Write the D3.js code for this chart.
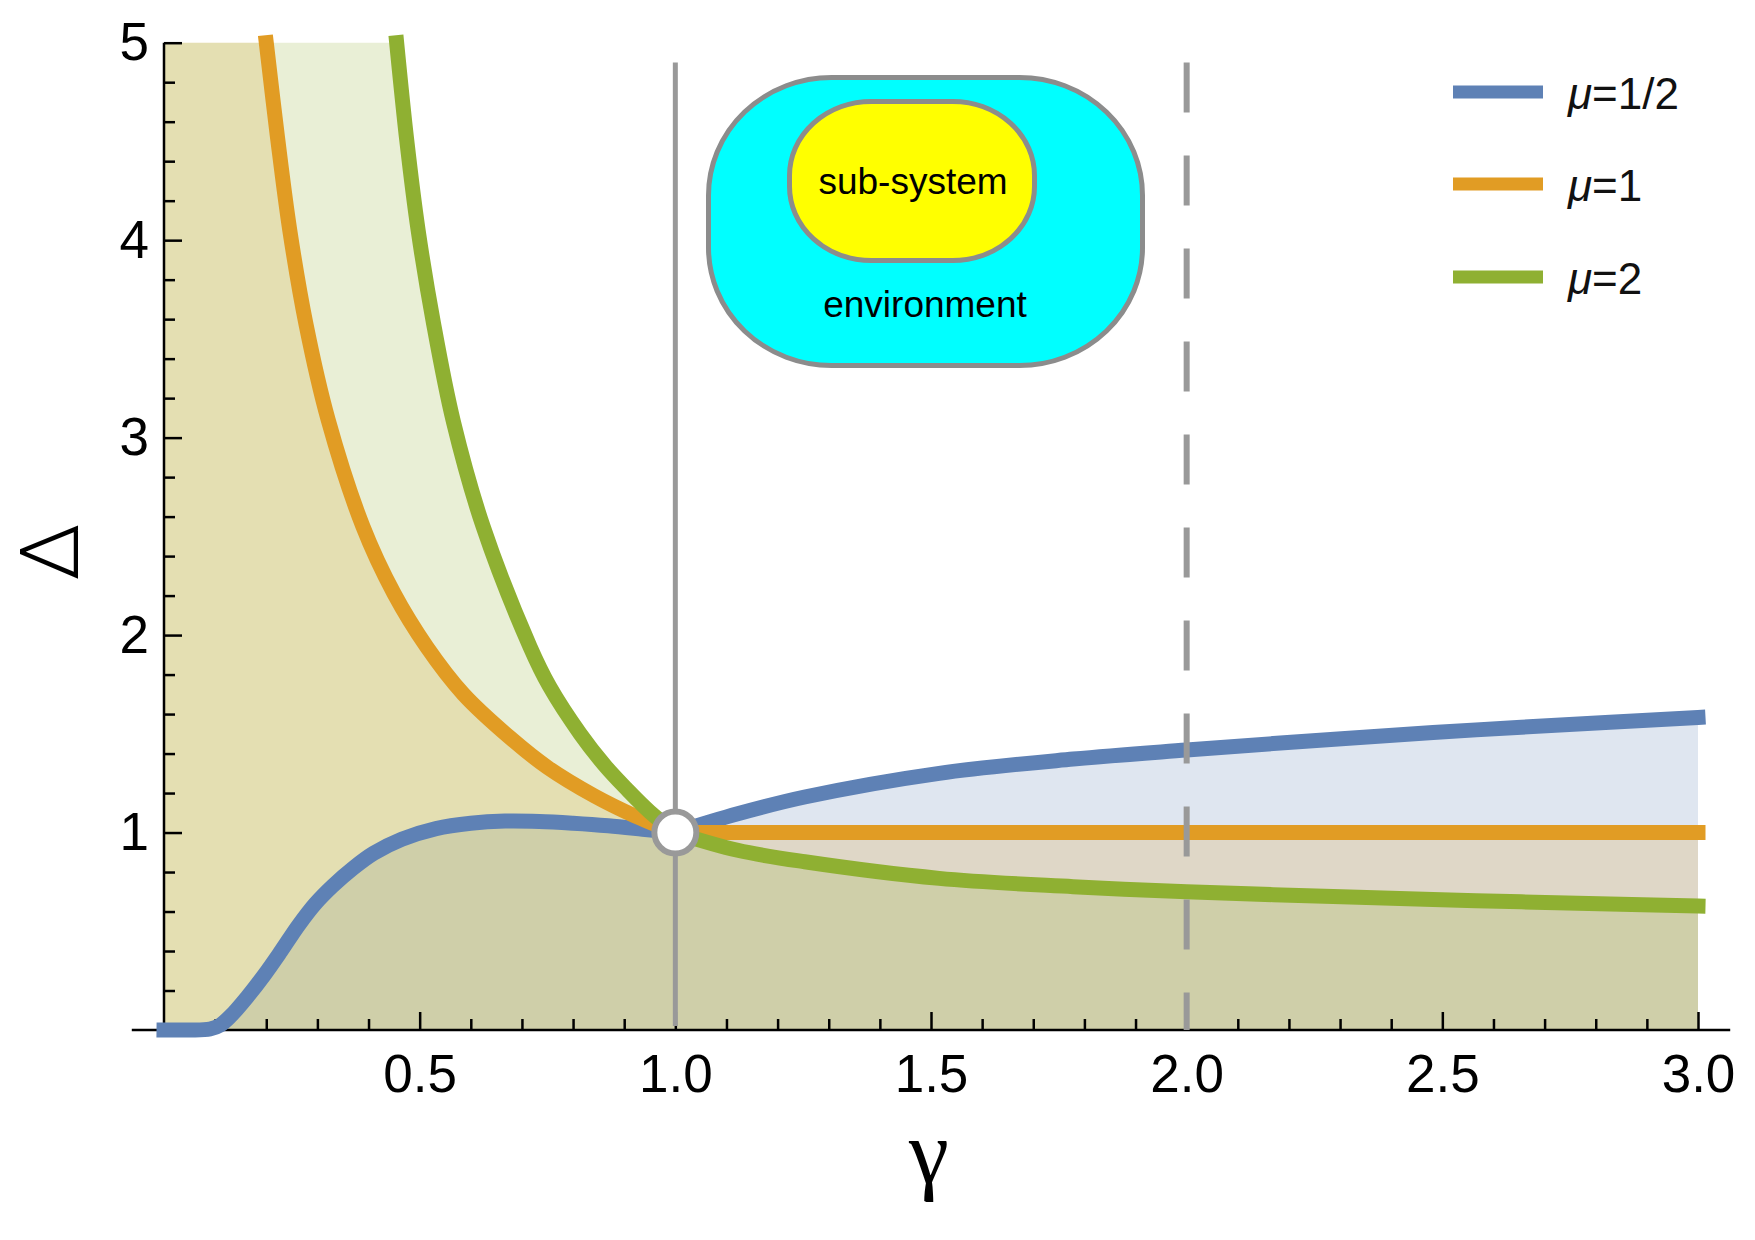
<!DOCTYPE html>
<html>
<head>
<meta charset="utf-8">
<script src="https://cdn.jsdelivr.net/npm/d3@7/dist/d3.min.js"></script>
<style>
  body { margin: 0; background: #fff; }
  svg { display: block; font-family: "Liberation Sans", Arial, sans-serif; }
</style>
</head>
<body>
<script>
// Data //////////////////////////////////////

// mu = 1/2 (blue), split at gamma = 1
var blueGammaLeft  = [0, 0.05, 0.09, 0.11, 0.13, 0.162, 0.195, 0.229, 0.263, 0.296, 0.33, 0.37, 0.41, 0.465, 0.532, 0.6, 0.667, 0.734, 0.80, 0.869, 0.936, 1.0];
var blueDeltaLeft  = [0, 0, 0.005, 0.025, 0.07, 0.165, 0.275, 0.40, 0.53, 0.64, 0.73, 0.82, 0.895, 0.966, 1.02, 1.047, 1.058, 1.056, 1.047, 1.034, 1.017, 1.0];
var blueGammaRight = [1.0, 1.122, 1.253, 1.516, 1.778, 2.0, 2.303, 2.566, 2.828, 3.0];
var blueDeltaRight = [1.0, 1.095, 1.18, 1.30, 1.372, 1.418, 1.475, 1.52, 1.558, 1.583];

// mu = 1 (orange)
var orangeGammaLeft  = [0.20, 0.222, 0.246, 0.278, 0.321, 0.389, 0.45, 0.514, 0.586, 0.677, 0.75, 0.842, 0.92, 1.0];
var orangeDeltaLeft  = [5.0, 4.52, 4.05, 3.57, 3.09, 2.55, 2.21, 1.94, 1.70, 1.48, 1.33, 1.185, 1.085, 1.0];
var orangeGammaRight = [1.0, 2.0, 3.0];
var orangeDeltaRight = [1.0, 1.0, 1.0];

// mu = 2 (green)
var greenGammaLeft  = [0.455, 0.475, 0.497, 0.527, 0.566, 0.624, 0.716, 0.754, 0.814, 0.862, 0.905, 0.95, 1.0];
var greenDeltaLeft  = [5.0, 4.5, 4.05, 3.58, 3.08, 2.55, 1.94, 1.74, 1.50, 1.34, 1.22, 1.105, 1.0];
var greenGammaRight = [1.0, 1.122, 1.253, 1.516, 1.778, 2.0, 2.303, 2.566, 2.828, 3.0];
var greenDeltaRight = [1.0, 0.91, 0.852, 0.768, 0.726, 0.70, 0.675, 0.655, 0.638, 0.628];

var seriesNames  = ["\u03bc=1/2", "\u03bc=1", "\u03bc=2"];
var seriesColors = ["#5E81B5", "#E19C24", "#8FB032"];

var xTickValues = [0.5, 1.0, 1.5, 2.0, 2.5, 3.0];
var yTickValues = [1, 2, 3, 4, 5];

var markGammas = [1.0, 2.0];   // solid and dashed vertical guides
var pointGamma = 1.0, pointDelta = 1.0;

// SVG + scales //////////////////////////////////////////////////
var W = 1755, H = 1240;

var svg = d3.select("body").append("svg")
    .attr("width", W)
    .attr("height", H);

var x = d3.scaleLinear().domain([0, 3]).range([164, 1698]);
var y = d3.scaleLinear().domain([0, 5]).range([1030, 42.7]);

function pts(g, d) { return g.map(function(v, i) { return [v, d[i]]; }); }

var line = d3.line()
    .x(function(d) { return x(d[0]); })
    .y(function(d) { return y(d[1]); })
    .curve(d3.curveCatmullRom.alpha(0.5));

var series = [
  { left: pts(blueGammaLeft, blueDeltaLeft),     right: pts(blueGammaRight, blueDeltaRight) },
  { left: pts(orangeGammaLeft, orangeDeltaLeft), right: pts(orangeGammaRight, orangeDeltaRight) },
  { left: pts(greenGammaLeft, greenDeltaLeft),   right: pts(greenGammaRight, greenDeltaRight) }
];

function curvePath(s) {
  return line(s.left) + line(s.right).replace(/^M/, "L");
}

function fillPath(s) {
  var first = s.left[0], last = s.right[s.right.length - 1];
  return curvePath(s)
    + "L" + x(last[0]) + "," + y(0)
    + "L" + x(0) + "," + y(0)
    + "L" + x(0) + "," + y(first[1]) + "Z";
}

// fills (to axis) //////////////////////////////////////////////
svg.append("g").selectAll("path")
  .data(series)
  .enter().append("path")
    .attr("d", fillPath)
    .attr("fill", function(d, i) { return seriesColors[i]; })
    .attr("fill-opacity", 0.2)
    .attr("stroke", "none");

// axes //////////////////////////////////////////////////////////
var xMinor = d3.range(1, 30).map(function(i) { return i / 10; })
    .filter(function(v) { return Math.abs(v * 2 - Math.round(v * 2)) > 1e-6; });
var yMinor = d3.range(1, 25).map(function(i) { return i / 5; })
    .filter(function(v) { return Math.abs(v - Math.round(v)) > 1e-6; });

function styleAxis(g) {
  g.select(".domain").remove();
  g.selectAll(".tick line").attr("stroke", "#000").attr("stroke-width", 2.5);
  g.selectAll(".tick text")
    .attr("fill", "#000")
    .style("font-family", '"Liberation Sans", Arial, sans-serif')
    .style("font-size", "53px");
}

svg.append("g")
    .attr("transform", "translate(0," + y(0) + ")")
    .call(d3.axisBottom(x).tickValues(xMinor).tickSize(-11).tickFormat(""))
    .call(styleAxis);

svg.append("g")
    .attr("transform", "translate(0," + y(0) + ")")
    .call(d3.axisBottom(x).tickValues(xTickValues).tickSize(-18).tickPadding(24).tickFormat(d3.format(".1f")))
    .call(styleAxis);

svg.append("g")
    .attr("transform", "translate(" + x(0) + ",0)")
    .call(d3.axisLeft(y).tickValues(yMinor).tickSize(-11).tickFormat(""))
    .call(styleAxis);

svg.append("g")
    .attr("transform", "translate(" + x(0) + ",0)")
    .call(d3.axisLeft(y).tickValues(yTickValues).tickSize(-18).tickPadding(15).tickFormat(d3.format("d")))
    .call(styleAxis);

// axis lines
svg.append("line")
    .attr("x1", x(-0.063)).attr("x2", x(3.063))
    .attr("y1", y(0)).attr("y2", y(0))
    .attr("stroke", "#000").attr("stroke-width", 2.5);
svg.append("line")
    .attr("x1", x(0)).attr("x2", x(0))
    .attr("y1", y(0)).attr("y2", y(5))
    .attr("stroke", "#000").attr("stroke-width", 2.5);

// curves ////////////////////////////////////////////////////////
svg.append("g").selectAll("path")
  .data(series)
  .enter().append("path")
    .attr("d", curvePath)
    .attr("fill", "none")
    .attr("stroke", function(d, i) { return seriesColors[i]; })
    .attr("stroke-width", 15)
    .attr("stroke-linecap", "square")
    .attr("stroke-linejoin", "round");

// vertical guides ///////////////////////////////////////////////
svg.append("line")
    .attr("x1", x(markGammas[0])).attr("x2", x(markGammas[0]))
    .attr("y1", y(4.9)).attr("y2", y(0.02))
    .attr("stroke", "#999").attr("stroke-width", 5);

svg.append("line")
    .attr("x1", x(markGammas[1])).attr("x2", x(markGammas[1]))
    .attr("y1", y(4.9)).attr("y2", y(0))
    .attr("stroke", "#999").attr("stroke-width", 6)
    .attr("stroke-dasharray", "50,43");

// crossing point
svg.append("circle")
    .attr("cx", x(pointGamma)).attr("cy", y(pointDelta))
    .attr("r", 21)
    .attr("fill", "#fff")
    .attr("stroke", "#999").attr("stroke-width", 6);

// axis labels ///////////////////////////////////////////////////
svg.append("text")
    .attr("transform", "translate(50,552) rotate(-90)")
    .attr("text-anchor", "middle")
    .attr("dominant-baseline", "central")
    .style("font-family", 'Roboto, "Liberation Sans", sans-serif')
    .style("font-weight", 300)
    .style("font-size", "82px")
    .text("\u0394");

svg.append("text")
    .attr("x", 929).attr("y", 1183)
    .attr("text-anchor", "middle")
    .style("font-family", '"Liberation Serif", "Times New Roman", serif')
    .style("font-size", "90px")
    .text("\u03b3");

// legend ////////////////////////////////////////////////////////
var legend = svg.append("g");
var legendY = [92, 184, 277];

seriesNames.forEach(function(name, i) {
  legend.append("line")
      .attr("x1", 1453).attr("x2", 1543)
      .attr("y1", legendY[i]).attr("y2", legendY[i])
      .attr("stroke", seriesColors[i]).attr("stroke-width", 13);
  var t = legend.append("text")
      .attr("x", 1568).attr("y", legendY[i] + 17)
      .style("font-size", "44px")
      .attr("fill", "#111");
  t.append("tspan").style("font-style", "italic").text(name.charAt(0));
  t.append("tspan").text(name.slice(1));
});

// inset: sub-system inside environment //////////////////////////
var inset = svg.append("g");
inset.append("rect")
    .attr("x", 708.5).attr("y", 77.5)
    .attr("width", 434).attr("height", 288)
    .attr("rx", 123).attr("ry", 118)
    .attr("fill", "#00FFFF")
    .attr("stroke", "#8c8c8c").attr("stroke-width", 5);
inset.append("rect")
    .attr("x", 789.5).attr("y", 101.5)
    .attr("width", 245).attr("height", 159)
    .attr("rx", 82).attr("ry", 74)
    .attr("fill", "#FFFF00")
    .attr("stroke", "#8c8c8c").attr("stroke-width", 5);
inset.append("text")
    .attr("x", 913).attr("y", 194)
    .attr("text-anchor", "middle")
    .style("font-size", "37px")
    .text("sub-system");
inset.append("text")
    .attr("x", 925).attr("y", 317)
    .attr("text-anchor", "middle")
    .style("font-size", "37px")
    .text("environment");
</script>
</body>
</html>
